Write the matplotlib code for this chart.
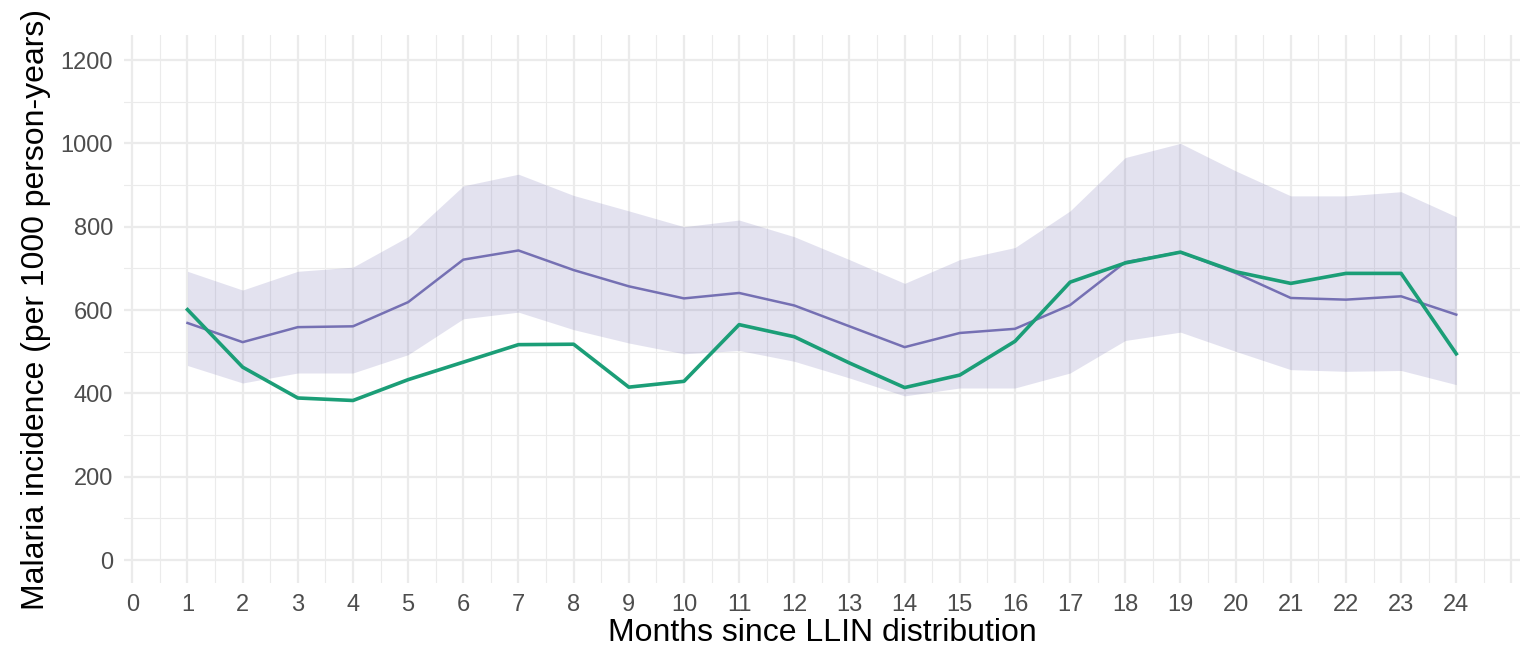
import matplotlib
matplotlib.use("Agg")
import matplotlib.pyplot as plt
from matplotlib.ticker import MultipleLocator, FixedLocator

plt.rcParams['font.family'] = ['Liberation Sans', 'DejaVu Sans']

months = list(range(1, 25))
predicted = [569, 523, 559, 561, 619, 721, 743, 696, 657, 628, 641, 611,
             561, 511, 545, 555, 612, 715, 739, 689, 629, 625, 633, 589]
pred_upper = [693, 648, 693, 703, 776, 898, 926, 875, 838, 800, 816, 776,
              721, 664, 721, 750, 838, 966, 1000, 934, 874, 874, 884, 824]
pred_lower = [467, 425, 449, 449, 493, 579, 595, 553, 521, 495, 503, 477,
              437, 394, 413, 413, 449, 527, 547, 501, 457, 453, 455, 421]
observed = [601, 463, 389, 383, 433, 475, 517, 518, 415, 429, 565, 536,
            473, 414, 444, 525, 667, 713, 739, 692, 664, 688, 688, 495]

x_ticks = list(range(0, 26))
x_labels = [str(m) for m in range(0, 25)] + [""]
y_ticks = [0, 200, 400, 600, 800, 1000, 1200]

fig = plt.figure(figsize=(15.22, 6.61), dpi=100)
ax = fig.add_axes([0.0815, 0.118, 0.917, 0.829])

ax.fill_between(months, pred_lower, pred_upper, color="#7570B3", alpha=0.2,
                linewidth=0, zorder=2)
ax.plot(months, predicted, color="#7570B3", lw=1.8, zorder=3)
ax.plot(months, observed, color="#1B9E77", lw=2.6, zorder=4)

ax.set_xlim(-0.15, 25.15)
ax.set_ylim(-55, 1260)
ax.xaxis.set_major_locator(FixedLocator(x_ticks))
ax.set_xticklabels(x_labels)
ax.xaxis.set_minor_locator(MultipleLocator(0.5))
ax.set_yticks(y_ticks)
ax.yaxis.set_minor_locator(MultipleLocator(100))

ax.grid(which="major", color="#EBEBEB", lw=1.6, zorder=0)
ax.grid(which="minor", color="#EBEBEB", lw=0.8, zorder=0)
ax.set_axisbelow(True)
for s in ax.spines.values():
    s.set_visible(False)
ax.tick_params(which="both", length=0)
ax.tick_params(axis="both", labelsize=17, labelcolor="#4D4D4D", pad=8)

ax.set_xlabel("Months since LLIN distribution", fontsize=23, color="black", labelpad=1)
ax.set_ylabel("Malaria incidence (per 1000 person-years)", fontsize=23, color="black", labelpad=7)

fig.savefig("out.png", dpi=100, facecolor="white")
